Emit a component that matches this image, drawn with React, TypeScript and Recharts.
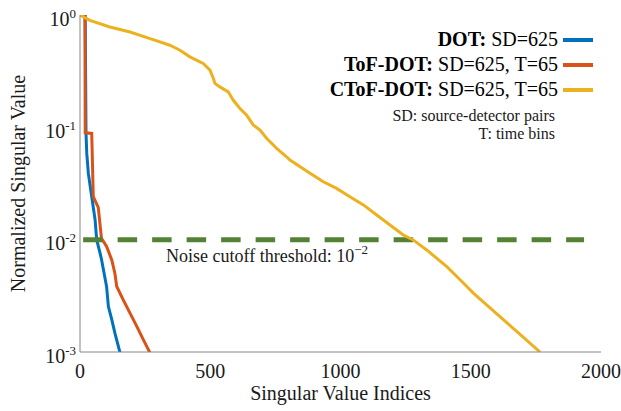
import React from "react";
import { LineChart, Line, XAxis, YAxis, ReferenceLine } from "recharts";

const SERIF = "'Liberation Serif', 'Times New Roman', serif";
const FRAME = "#868686";
const TEXT = "#1a1a1a";
const serifStyle = { fontFamily: SERIF };

// Series values (singular value index, normalized singular value)
const dotIdx = [0, 20, 23, 26, 32, 45, 58, 64, 77, 83, 102, 109, 122, 134, 154];
const dotVal = [1, 1, 0.0893, 0.0586, 0.0389, 0.0241, 0.015, 0.01, 0.0076, 0.0066, 0.00383, 0.00254, 0.00194, 0.00147, 0.00098];

const tofIdx = [0, 19, 20, 45, 51, 70, 83, 86, 102, 122, 134, 141, 166, 192, 218, 243, 269];
const tofVal = [1, 1, 0.0893, 0.0883, 0.0241, 0.0194, 0.01, 0.01, 0.0087, 0.0066, 0.005, 0.00383, 0.00291, 0.00222, 0.00169, 0.00129, 0.00098];

const ctofIdx = [0, 38, 115, 192, 269, 345, 384, 422, 473, 499, 512, 518, 537, 569, 588, 614, 640, 665, 691, 717, 755, 793, 806, 883, 934, 985, 1036, 1088, 1139, 1190, 1241, 1279, 1331, 1408, 1459, 1510, 1612, 1766];
const ctofVal = [1.0, 0.897, 0.782, 0.706, 0.617, 0.538, 0.486, 0.424, 0.37, 0.323, 0.272, 0.246, 0.229, 0.207, 0.175, 0.147, 0.128, 0.105, 0.0945, 0.0796, 0.065, 0.0547, 0.0512, 0.039, 0.0328, 0.0286, 0.0241, 0.0204, 0.0166, 0.0135, 0.011, 0.00995, 0.0081, 0.00575, 0.0044, 0.00334, 0.00207, 0.001];

const thresholdIdx = [12, 1935];
const thresholdVal = [0.01, 0.01];

// Legend
const seriesBold = ["DOT:", "ToF-DOT:", "CToF-DOT:"];
const seriesRest = ["SD=625", "SD=625, T=65", "SD=625, T=65"];
const seriesColors = ["#0072BD", "#D95319", "#EDB120"];
const notes = ["SD: source-detector pairs", "T: time bins"];
const thresholdColor = "#548235";

// Axes
const xTicks = [0, 500, 1000, 1500, 2000];
const yMajor = [0.001, 0.01, 0.1, 1];
const yMinor = [0.002, 0.003, 0.004, 0.005, 0.006, 0.007, 0.008, 0.009, 0.02, 0.03, 0.04, 0.05, 0.06, 0.07, 0.08, 0.09, 0.2, 0.3, 0.4, 0.5, 0.6, 0.7, 0.8, 0.9];
const xLabel = "Singular Value Indices";
const yLabel = "Normalized Singular Value";
const thresholdText = "Noise cutoff threshold: ";

const zip = (xs: number[], ys: number[]) => xs.map((x, i) => ({ x, y: ys[i] }));
const dotData = zip(dotIdx, dotVal);
const tofData = zip(tofIdx, tofVal);
const ctofData = zip(ctofIdx, ctofVal);
const thresholdData = zip(thresholdIdx, thresholdVal);

const Empty = () => <g />;

const XTick = (props: any) => {
  const { x, y, payload } = props;
  return (
    <text x={x} y={y + 26} textAnchor="middle" style={serifStyle} fontSize={20} fill={TEXT}>
      {payload.value}
    </text>
  );
};

const YTick = (props: any) => {
  const { x, y, payload } = props;
  const exp = Math.round(Math.log10(payload.value));
  return (
    <text x={x - 4} y={y + 10.5} textAnchor="end" style={serifStyle} fill={TEXT}>
      <tspan fontSize={20}>10</tspan>
      <tspan fontSize={13} dy={-8}>{String(exp)}</tspan>
    </text>
  );
};

const XLabel = (props: any) => {
  const vb = props.viewBox;
  return (
    <text x={vb.x + vb.width / 2} y={vb.y + 48} textAnchor="middle" style={serifStyle} fontSize={20} fill={TEXT}>
      {xLabel}
    </text>
  );
};

const YLabel = (props: any) => {
  const vb = props.viewBox;
  const cx = vb.x + 25;
  const cy = vb.y + vb.height / 2;
  return (
    <text x={cx} y={cy} transform={`rotate(-90, ${cx}, ${cy})`} textAnchor="middle" style={serifStyle} fontSize={20} fill={TEXT}>
      {yLabel}
    </text>
  );
};

const ThresholdLabel = (props: any) => {
  const vb = props.viewBox;
  return (
    <text x={vb.x + 86} y={vb.y + 22} style={serifStyle} fontSize={18} fill={TEXT}>
      <tspan>{thresholdText}</tspan>
      <tspan>10</tspan>
      <tspan fontSize={13} dy={-8}>{"\u22122"}</tspan>
    </text>
  );
};

const yCommon = {
  type: "number" as const,
  scale: "log" as const,
  domain: [0.001, 1],
  allowDataOverflow: true,
  interval: 0 as const,
};
const xCommon = {
  type: "number" as const,
  domain: [0, 2000],
  allowDataOverflow: true,
  interval: 0 as const,
  dataKey: "x",
};

export default function App() {
  return (
    <div style={{ position: "fixed", left: 0, top: 0, width: 621, height: 411, background: "#fff", fontFamily: SERIF }}>
      <LineChart width={621} height={411} margin={{ top: 15, right: 20, bottom: 0, left: 0 }} style={serifStyle}>
        <XAxis
          {...xCommon}
          xAxisId="x"
          ticks={xTicks}
          height={59}
          tickLine={false}
          tickSize={0}
          tickMargin={0}
          axisLine={{ stroke: FRAME }}
          tick={<XTick />}
          label={(p: any) => <XLabel {...p} />}
        />
        <XAxis {...xCommon} xAxisId="xb" orientation="bottom" mirror height={0} ticks={xTicks} tickSize={5} tick={Empty} axisLine={false} tickLine={{ stroke: FRAME }} />
        <XAxis {...xCommon} xAxisId="xt" orientation="top" mirror height={0} ticks={xTicks} tickSize={5} tick={Empty} axisLine={{ stroke: FRAME }} tickLine={{ stroke: FRAME }} />
        <YAxis
          {...yCommon}
          yAxisId="y"
          ticks={yMajor}
          width={80}
          tickLine={false}
          tickSize={0}
          tickMargin={0}
          axisLine={{ stroke: FRAME }}
          tick={<YTick />}
          label={(p: any) => <YLabel {...p} />}
        />
        <YAxis {...yCommon} yAxisId="yl1" orientation="left" mirror width={0} ticks={yMajor} tickSize={5} tick={Empty} axisLine={false} tickLine={{ stroke: FRAME }} />
        <YAxis {...yCommon} yAxisId="yl2" orientation="left" mirror width={0} ticks={yMinor} tickSize={3} tick={Empty} axisLine={false} tickLine={{ stroke: FRAME }} />
        <YAxis {...yCommon} yAxisId="yr1" orientation="right" mirror width={0} ticks={yMajor} tickSize={5} tick={Empty} axisLine={{ stroke: FRAME }} tickLine={{ stroke: FRAME }} />
        <YAxis {...yCommon} yAxisId="yr2" orientation="right" mirror width={0} ticks={yMinor} tickSize={3} tick={Empty} axisLine={false} tickLine={{ stroke: FRAME }} />

        <Line xAxisId="x" yAxisId="y" data={dotData} dataKey="y" type="linear" stroke={seriesColors[0]} strokeWidth={3} dot={false} isAnimationActive={false} />
        <Line xAxisId="x" yAxisId="y" data={tofData} dataKey="y" type="linear" stroke={seriesColors[1]} strokeWidth={3} dot={false} isAnimationActive={false} />
        <Line xAxisId="x" yAxisId="y" data={thresholdData} dataKey="y" type="linear" stroke={thresholdColor} strokeWidth={5} strokeDasharray="19.5 15" dot={false} isAnimationActive={false} />
        <Line xAxisId="x" yAxisId="y" data={ctofData} dataKey="y" type="linear" stroke={seriesColors[2]} strokeWidth={3} dot={false} isAnimationActive={false} />
        <ReferenceLine xAxisId="x" yAxisId="y" y={0.01} stroke="transparent" label={(p: any) => <ThresholdLabel {...p} />} />
      </LineChart>

      <div style={{ position: "absolute", right: 28, top: 27, fontFamily: SERIF, fontSize: 20, color: "#000" }}>
        {seriesBold.map((b, i) => (
          <div key={b} style={{ display: "flex", justifyContent: "flex-end", alignItems: "center", height: 25, lineHeight: "25px", whiteSpace: "nowrap" }}>
            <span>
              <b>{b}</b> {seriesRest[i]}
            </span>
            <span style={{ display: "inline-block", width: 30, height: 4, background: seriesColors[i], marginLeft: 5 }} />
          </div>
        ))}
      </div>
      <div style={{ position: "absolute", right: 66, top: 106.6, fontFamily: SERIF, fontSize: 16, lineHeight: "18.5px", textAlign: "right", color: TEXT, whiteSpace: "nowrap" }}>
        {notes.map((n) => (
          <div key={n}>{n}</div>
        ))}
      </div>
    </div>
  );
}
